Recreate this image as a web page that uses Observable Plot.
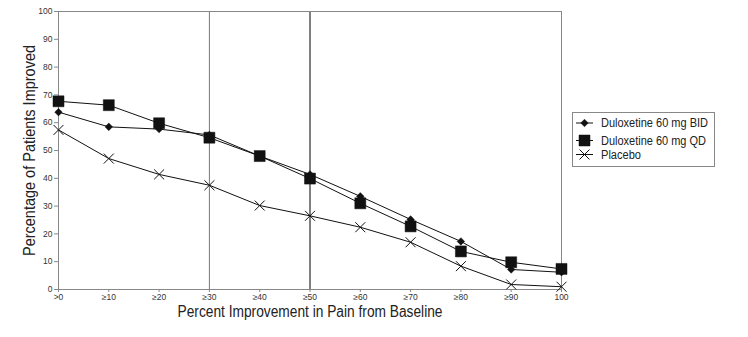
<!DOCTYPE html>
<html><head><meta charset="utf-8">
<script src="https://cdn.jsdelivr.net/npm/d3@7"></script>
<script src="https://cdn.jsdelivr.net/npm/@observablehq/plot@0.6"></script>
<style>
body{margin:0;background:#fff;font-family:"Liberation Sans",sans-serif;}
#wrap{position:relative;width:748px;height:337px;overflow:hidden;}
#legend{position:absolute;left:572px;top:112px;overflow:visible;}
</style></head>
<body><div id="wrap"></div>
<script>
const levels = [0,10,20,30,40,50,60,70,80,90,100];
const tickLabels = [">0","≥10","≥20","≥30","≥40","≥50","≥60","≥70","≥80","≥90","100"];
const bid = [63.8,58.5,57.7,55.6,48.0,41.4,33.5,25.2,17.3,7.2,6.2];
const qd = [67.7,66.3,59.8,54.6,48.0,39.9,31.0,22.7,13.7,9.8,7.4];
const placebo = [57.4,47.1,41.4,37.5,30.2,26.5,22.4,17.0,8.4,1.8,1.0];
const seriesNames = ["Duloxetine 60 mg BID","Duloxetine 60 mg QD","Placebo"];
const seriesSymbols = ["diamond2","square","times"];
const seriesR = [3.4,6.2,4.6];
const refLines = [30,50];
const refColors = ["#777","#000"];
const xTitle = "Percent Improvement in Pain from Baseline";
const yTitle = "Percentage of Patients Improved";

const seriesValues = [bid, qd, placebo];
const rows = [];
seriesValues.forEach((vals, si) => vals.forEach((v, i) => rows.push({series: seriesNames[si], level: levels[i], value: v, si})));

const font = '"Liberation Sans",sans-serif';
const chart = Plot.plot({
  width: 748, height: 337,
  marginLeft: 58, marginRight: 187, marginTop: 11, marginBottom: 48,
  style: {fontFamily: font, fontSize: "8px", color: "#333", background: "#fff"},
  x: {domain: [0, 100], label: null},
  y: {domain: [0, 100], label: null},
  marks: [
    Plot.ruleX(refLines, {x: d => d, stroke: (d, i) => refColors[i], strokeWidth: 1}),
    Plot.frame({stroke: "#888"}),
    ...seriesNames.map((name, si) => Plot.line(rows.filter(r => r.si === si), {x: "level", y: "value", stroke: "#111", strokeWidth: 1})),
    ...seriesNames.map((name, si) => Plot.dot(rows.filter(r => r.si === si), {x: "level", y: "value", symbol: () => seriesSymbols[si], r: seriesR[si], fill: si === 2 ? "none" : "#111", stroke: "#111", strokeWidth: si === 2 ? 1 : 0.5})),
    Plot.axisX({ticks: levels, tickFormat: (d) => tickLabels[levels.indexOf(d)], tickSize: 3, tickPadding: 1, stroke: "#888", fill: "#333", fontSize: 8.5, label: null}),
    Plot.axisY({ticks: d3.range(0, 101, 10), tickSize: 4, tickPadding: 2, stroke: "#888", fill: "#333", fontSize: 8.5, label: null}),
    Plot.text([xTitle], {frameAnchor: "bottom", dy: 22, fontSize: 16, fill: "#222", textAnchor: "middle", lineAnchor: "middle", className: "xtitle"}),
    Plot.text([yTitle], {frameAnchor: "left", dx: -29, rotate: -90, fontSize: 16, fill: "#222", textAnchor: "middle", lineAnchor: "middle", className: "ytitle"})
  ]
});
document.getElementById("wrap").appendChild(chart);
d3.select(chart).selectAll(".xtitle text").attr("textLength", 265).attr("lengthAdjust", "spacingAndGlyphs");
d3.select(chart).selectAll(".ytitle text").attr("textLength", 211).attr("lengthAdjust", "spacingAndGlyphs");

// Legend
const lg = d3.select("#wrap").append("svg").attr("id", "legend").attr("width", 170).attr("height", 56);
lg.append("rect").attr("x", 0.5).attr("y", 0.5).attr("width", 142).attr("height", 54).attr("fill", "#fff").attr("stroke", "#888");
const symMap = {diamond2: d3.symbolDiamond2, square: d3.symbolSquare, times: d3.symbolTimes};
const rowY = [11, 28.5, 42.5];
const legendTextLen = [107, 105, 40];
seriesNames.forEach((name, si) => {
  const g = lg.append("g").attr("transform", `translate(0,${rowY[si]})`);
  g.append("line").attr("x1", 4).attr("x2", 21).attr("stroke", "#111");
  const r = seriesR[si];
  g.append("path").attr("transform", "translate(12.5,0)")
    .attr("d", d3.symbol(symMap[seriesSymbols[si]], Math.PI * r * r)())
    .attr("fill", si === 2 ? "none" : "#111").attr("stroke", "#111").attr("stroke-width", si === 2 ? 1 : 0.5);
  g.append("text").attr("x", 29).attr("y", 0).attr("dy", "0.35em").attr("font-size", 12).attr("fill", "#222")
    .attr("font-family", font).attr("textLength", legendTextLen[si]).attr("lengthAdjust", "spacingAndGlyphs").text(name);
});
</script>
</body></html>
